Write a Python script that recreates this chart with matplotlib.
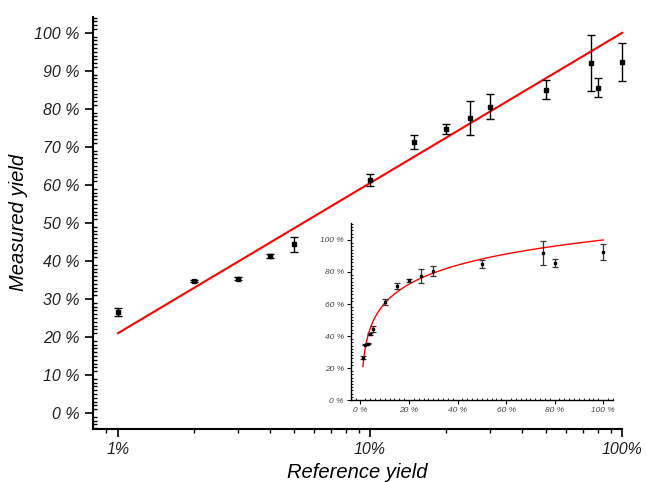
import numpy as np
import matplotlib.pyplot as plt
from matplotlib.ticker import FixedLocator, MultipleLocator, NullFormatter

plt.rcParams['font.family'] = ['Liberation Sans', 'DejaVu Sans']

# reference yield (%), measured yield (%), error
ref = [1, 2, 3, 4, 5, 10, 15, 20, 25, 30, 50, 75, 80, 100]
meas = [26.5, 34.7, 35.3, 41.3, 44.4, 61.3, 71.2, 74.7, 77.5, 80.6, 85.0, 92.0, 85.6, 92.4]
err = [1.0, 0.3, 0.4, 0.4, 2.0, 1.7, 1.8, 1.2, 4.5, 3.2, 2.5, 7.4, 2.4, 5.0]

# log fit: measured = a + b * log10(ref)
fit_a = 21.0
fit_b = 39.5

xfit = np.logspace(0, 2, 200)
yfit = fit_a + fit_b * np.log10(xfit)


def unclip(container):
    for art in container.get_children():
        art.set_clip_on(False)


fig = plt.figure(figsize=(6.46, 4.82), dpi=100)
ax = fig.add_axes([0.144, 0.110, 0.819, 0.855])

ax.plot(xfit, yfit, color='red', lw=1.5, zorder=2, clip_on=False)
eb = ax.errorbar(ref, meas, yerr=err, fmt='s', ms=3, color='black', ecolor='black',
                 elinewidth=1, capsize=3, capthick=1, zorder=3)
unclip(eb)

ax.set_xscale('log')
ax.set_xlim(0.796, 100)
ax.set_ylim(-4.2, 104.2)

ax.xaxis.set_major_locator(FixedLocator([1, 10, 100]))
ax.set_xticklabels(['1%', '10%', '100%'])
ax.xaxis.set_minor_locator(FixedLocator([0.9] + list(range(2, 10)) + list(range(20, 100, 10))))
ax.xaxis.set_minor_formatter(NullFormatter())

yt = list(range(0, 101, 10))
ax.yaxis.set_major_locator(FixedLocator(yt))
ax.set_yticklabels([f'{v} %' for v in yt])
ax.yaxis.set_minor_locator(MultipleLocator(1))

for s in ['top', 'right']:
    ax.spines[s].set_visible(False)
for s in ['left', 'bottom']:
    ax.spines[s].set_linewidth(1.5)

ax.tick_params(which='major', direction='out', length=5.5, width=1.2, pad=4,
               labelsize=11.5, labelcolor='#222222')
ax.tick_params(axis='y', which='minor', direction='in', length=3, width=1.0)
ax.tick_params(axis='x', which='minor', direction='out', length=3, width=1.0)
for lab in ax.get_xticklabels() + ax.get_yticklabels():
    lab.set_fontstyle('italic')

ax.set_xlabel('Reference yield', fontsize=14.5, style='italic', labelpad=4)
ax.set_ylabel('Measured yield', fontsize=14.5, style='italic', labelpad=5)

# linear-scale inset
ins = fig.add_axes([0.543, 0.170, 0.4065, 0.367])
ins.plot(xfit, yfit, color='red', lw=1.0, zorder=2)
ieb = ins.errorbar(ref, meas, yerr=err, fmt='s', ms=2, color='black', ecolor='#333333',
                   elinewidth=0.9, capsize=2, capthick=0.9, zorder=3)
unclip(ieb)
ins.set_xlim(-4, 104.2)
ins.set_ylim(0, 110.5)

it = list(range(0, 101, 20))
ins.xaxis.set_major_locator(FixedLocator(it))
ins.set_xticklabels([f'{v} %' for v in it])
ins.yaxis.set_major_locator(FixedLocator(it))
ins.set_yticklabels([f'{v} %' for v in it])
ins.xaxis.set_minor_locator(MultipleLocator(2))
ins.yaxis.set_minor_locator(MultipleLocator(2))

for s in ['top', 'right']:
    ins.spines[s].set_visible(False)
for s in ['left', 'bottom']:
    ins.spines[s].set_linewidth(1.0)

ins.tick_params(which='major', direction='out', length=3, width=0.8, pad=2,
                labelsize=6, labelcolor='#444444')
ins.tick_params(which='minor', direction='in', length=1.5, width=0.6)
for lab in ins.get_xticklabels() + ins.get_yticklabels():
    lab.set_fontstyle('italic')

fig.savefig('out.png', dpi=100)
